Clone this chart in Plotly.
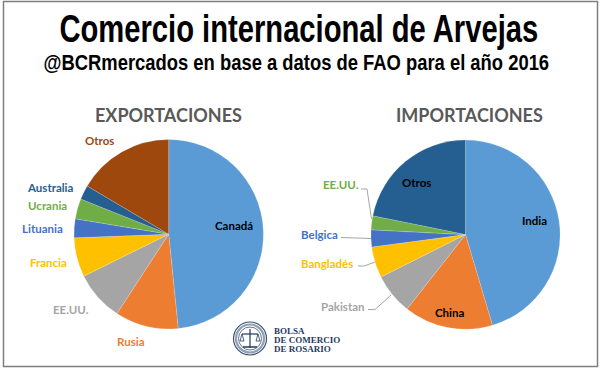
import plotly.graph_objects as go

W, H = 600, 369

export_labels = ["Canadá", "Rusia", "EE.UU.", "Francia", "Lituania", "Ucrania", "Australia", "Otros"]
export_values = [48.4, 10.8, 8.5, 6.7, 3.2, 3.45, 2.45, 16.5]
export_colors = ["#5B9BD5", "#ED7D31", "#A5A5A5", "#FFC000", "#4472C4", "#70AD47", "#255E91", "#9E480E"]

import_labels = ["India", "China", "Pakistan", "Bangladés", "Belgica", "EE.UU.", "Otros"]
import_values = [45.4, 15.2, 7.0, 5.3, 2.9, 2.4, 21.8]
import_colors = ["#5B9BD5", "#ED7D31", "#A5A5A5", "#FFC000", "#4472C4", "#70AD47", "#255E91"]

title_text = "Comercio internacional de Arvejas"
subtitle_text = "@BCRmercados en base a datos de FAO para el año 2016"


def px(x):
    return x / W


def py(y):
    return 1 - y / H


def dom(cx, cy, r):
    return dict(x=[px(cx - r), px(cx + r)], y=[py(cy + r), py(cy - r)])


fig = go.Figure()
fig.add_trace(go.Pie(labels=export_labels, values=export_values, sort=False, direction="clockwise",
                     rotation=0, textinfo="none", hoverinfo="label+percent",
                     marker=dict(colors=export_colors, line=dict(color="rgba(255,255,255,0.35)", width=0.5)),
                     domain=dom(168.7, 234.2, 94.7), showlegend=False))
fig.add_trace(go.Pie(labels=import_labels, values=import_values, sort=False, direction="clockwise",
                     rotation=0, textinfo="none", hoverinfo="label+percent",
                     marker=dict(colors=import_colors, line=dict(color="rgba(255,255,255,0.35)", width=0.5)),
                     domain=dom(465.5, 234.6, 94.6), showlegend=False))

ann = []


def text(s, x, y, size, color, family="Lato", anchor="center"):
    ann.append(dict(text=s, x=px(x), y=py(y), xref="paper", yref="paper",
                    showarrow=False, xanchor=anchor, yanchor="middle",
                    font=dict(size=size, color=color, family=family, weight=700)))


text(title_text, 298.5, 29, 38, "#000000", "Liberation Sans")
text(subtitle_text, 296, 62, 22, "#000000", "Liberation Sans")
text("EXPORTACIONES", 168.5, 114.5, 18, "#595959", "Lato")
text("IMPORTACIONES", 469, 114.5, 18, "#595959", "Lato")

# export labels
for s, x, y, c in [("Otros", 99.5, 140, "#9E480E"), ("Australia", 50, 187, "#255E91"),
                   ("Ucrania", 47, 205, "#70AD47"), ("Lituania", 42.5, 228, "#4472C4"),
                   ("Francia", 48, 262, "#FFC000"), ("EE.UU.", 71, 309, "#A5A5A5"),
                   ("Rusia", 131, 341, "#ED7D31"), ("Canadá", 233.5, 225, "#000000")]:
    text(s, x, y, 11.5, c, "Lato")

# import labels
for s, x, y, c in [("India", 534.5, 220, "#000000"), ("China", 450, 312, "#000000"),
                   ("Otros", 416.5, 182, "#000000"), ("EE.UU.", 340.5, 185, "#70AD47"),
                   ("Belgica", 319.5, 234, "#4472C4"), ("Bangladés", 327, 263, "#FFC000"),
                   ("Pakistan", 343, 306, "#A5A5A5")]:
    text(s, x, y, 11.5, c, "Lato")

# logo wording
for s, y in [("BOLSA", 330.5), ("DE COMERCIO", 339.5), ("DE ROSARIO", 348.5)]:
    text(s, 271.5, y, 9, "#1F3A5F", "Liberation Serif", "left")

shapes = []


def line(pts, color="#A6A6A6", width=1):
    d = "M " + " L ".join(f"{px(x):.5f} {py(y):.5f}" for x, y in pts)
    shapes.append(dict(type="path", path=d, xref="paper", yref="paper",
                       line=dict(color=color, width=width)))


def circle(cx, cy, r, lc="#1F3A5F", lw=1, fill="rgba(0,0,0,0)"):
    shapes.append(dict(type="circle", xref="paper", yref="paper", x0=px(cx - r), x1=px(cx + r),
                       y0=py(cy + r), y1=py(cy - r), line=dict(color=lc, width=lw), fillcolor=fill))


# frame
shapes.append(dict(type="rect", xref="paper", yref="paper", x0=px(3.5), x1=px(597.5), y0=py(366.5), y1=py(1.5),
                   line=dict(color="#7F7F7F", width=1.5), fillcolor="rgba(0,0,0,0)", layer="below"))

# leader lines of the import pie
line([(361, 189), (367, 189), (371.5, 219)])
line([(341, 237.5), (371, 238.5)])
line([(358, 266), (364, 266), (375, 262)])
line([(368, 309.5), (375, 309.5), (391, 295)])

# logo emblem
circle(250, 338.5, 16.5, "#3A5270", 1.2)
circle(250, 338.5, 11.5, "#3A5270", 0.8)
circle(250, 338.5, 14, "#8FA0B5", 2.2)
line([(250, 329), (250, 348)], "#1F3A5F", 1.2)
line([(242, 334), (258, 334)], "#1F3A5F", 1.2)
line([(242, 334), (240, 341), (244, 341), (242, 334)], "#1F3A5F", 0.8)
line([(258, 334), (256, 341), (260, 341), (258, 334)], "#1F3A5F", 0.8)
line([(243, 347), (257, 347)], "#1F3A5F", 1.5)

fig.update_layout(width=W, height=H, autosize=False, margin=dict(l=0, r=0, t=0, b=0),
                  paper_bgcolor="#FFFFFF", plot_bgcolor="#FFFFFF",
                  annotations=ann, shapes=shapes)

# The headings use a condensed face in the reference: squeeze the real text to the same width.
post = """
document.body.style.margin='0';
var widths = {};
widths[%r] = 479;
widths[%r] = 506;
document.querySelectorAll('.annotation-text').forEach(function (t) {
  var w = widths[t.textContent];
  if (w) {
    var k = w / t.getComputedTextLength();
    t.style.transformBox = 'fill-box';
    t.style.transformOrigin = 'center';
    t.style.transform = 'scaleX(' + k + ')';
  }
});
""" % (title_text, subtitle_text)
fig.write_html("out.html", config=dict(displayModeBar=False), post_script=post)
